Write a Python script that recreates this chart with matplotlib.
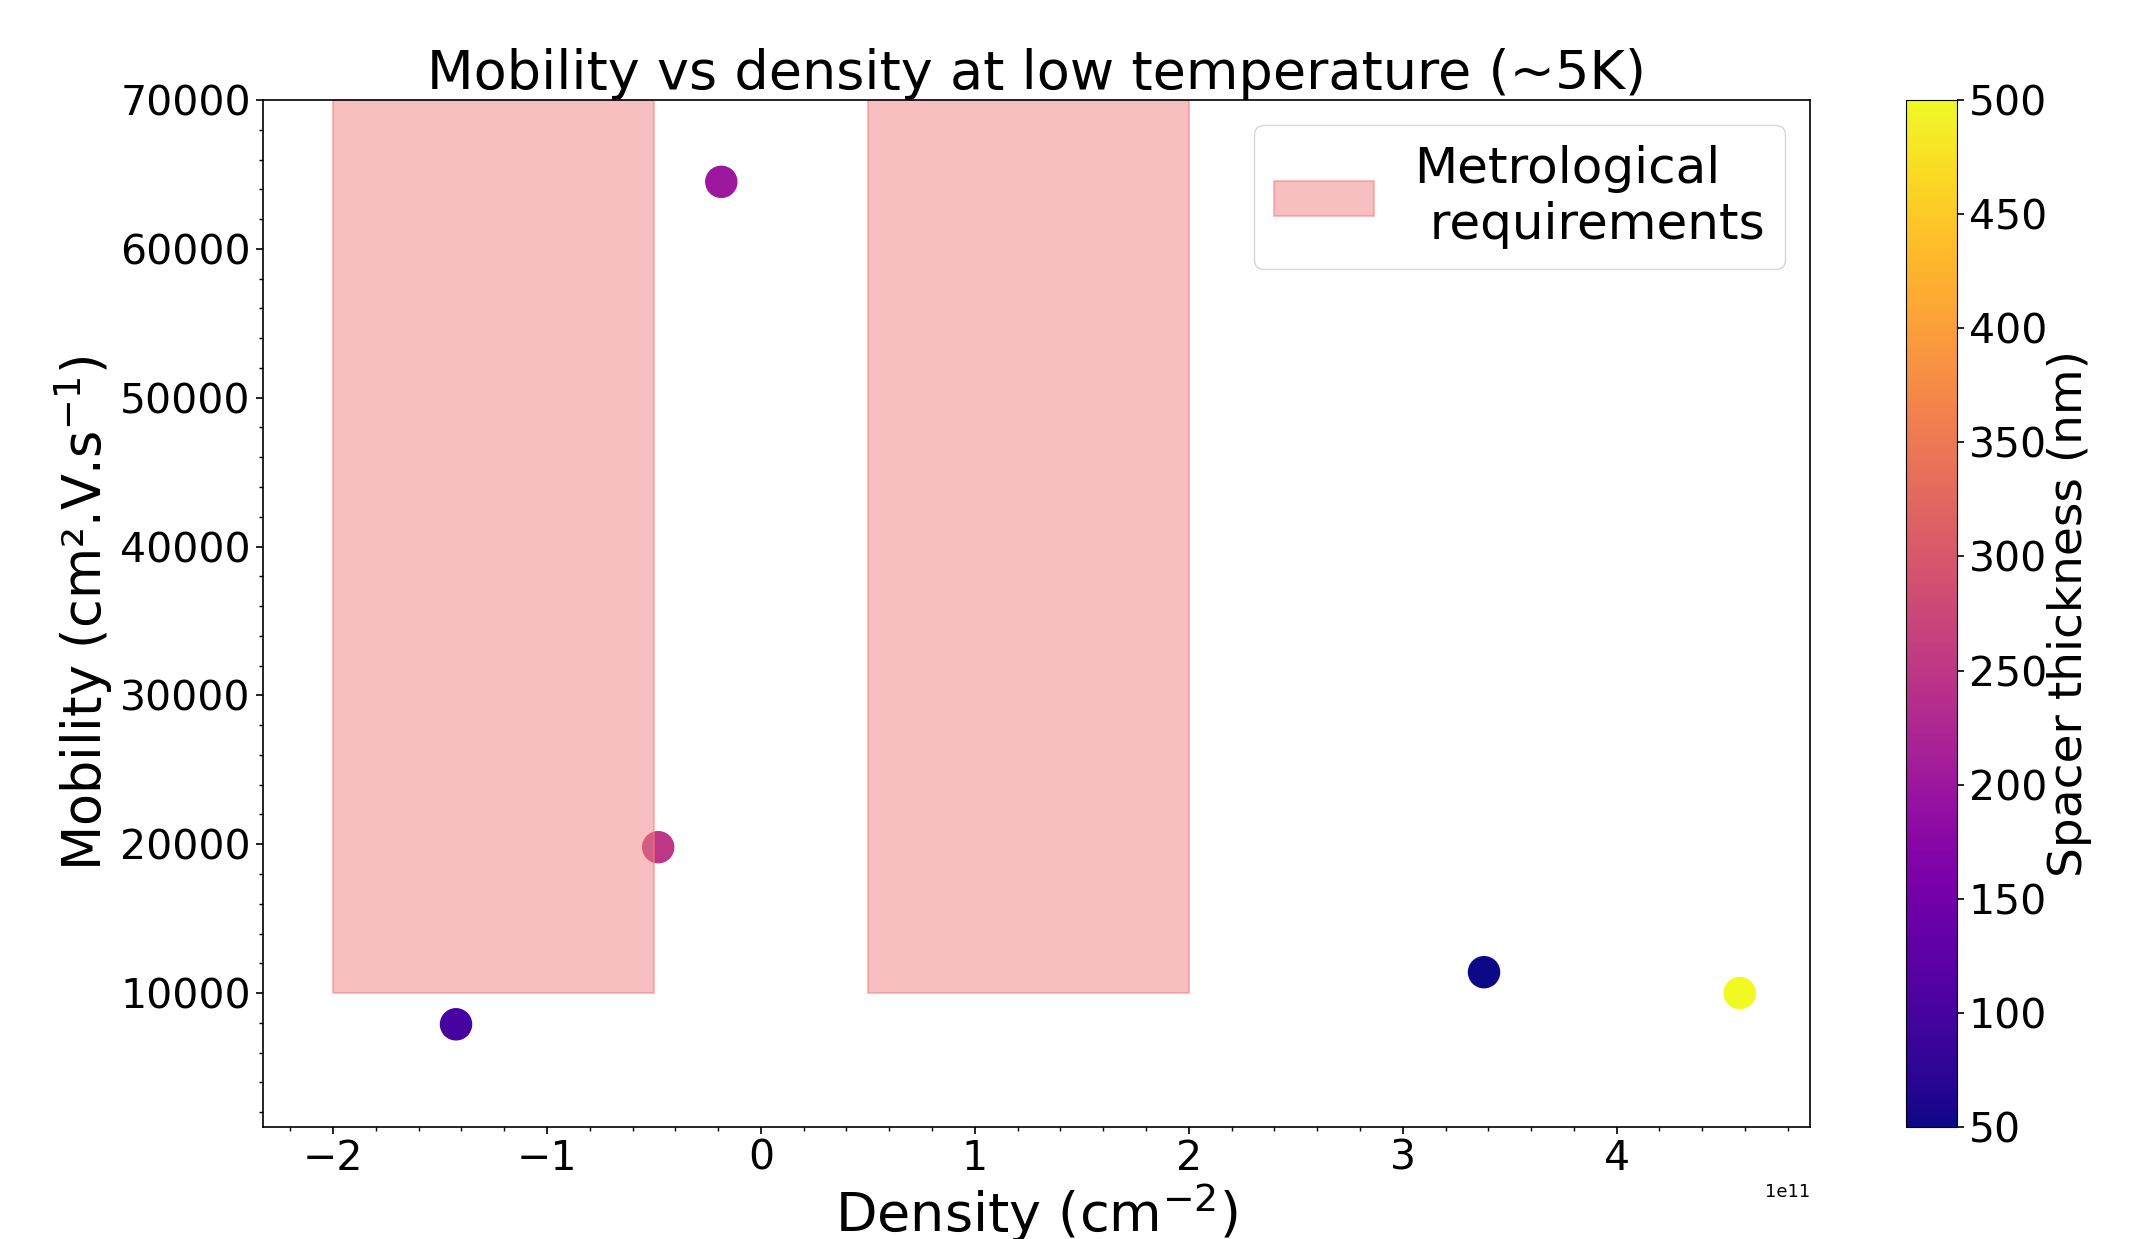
import matplotlib
matplotlib.use("Agg")
import matplotlib.pyplot as plt
import numpy as np
from matplotlib.ticker import MultipleLocator

# Datos (densidad en 1e11 cm^-2)
densidad = np.array([-1.425, -0.48, -0.185, 3.38, 4.575]) * 1e11
movilidad = [7900, 19800, 64500, 11400, 10000]
espesor_spacer = [100, 250, 200, 50, 500]

# Zonas de requisitos metrológicos
zonas_x = [(-2e11, -0.5e11), (0.5e11, 2e11)]
zona_y = (10000, 70000)

fig = plt.figure(figsize=(21.39, 12.39), dpi=100)
ax = fig.add_axes([0.1228, 0.0904, 0.7234, 0.8289])
cax = fig.add_axes([0.8912, 0.0904, 0.0236, 0.8289])

sc = ax.scatter(densidad, movilidad, c=espesor_spacer, cmap="plasma", s=500,
                vmin=50, vmax=500)

for i, (x0, x1) in enumerate(zonas_x):
    ax.fill_between([x0, x1], zona_y[0], zona_y[1], facecolor="lightcoral",
                    edgecolor="lightcoral", linewidth=1.5, alpha=0.5,
                    label="Metrological\n requirements" if i == 0 else None)

ax.set_ylim(1000, 70000)
ax.xaxis.set_minor_locator(MultipleLocator(0.2e11))
ax.yaxis.set_minor_locator(MultipleLocator(2000))
ax.tick_params(which="major", labelsize=29.5, length=5, width=1.2)
ax.tick_params(which="minor", length=3, width=1.0)
for s in ax.spines.values():
    s.set_linewidth(1.2)
ax.xaxis.get_offset_text().set_fontsize(13)

ax.set_title("Mobility vs density at low temperature (~5K)", fontsize=39, pad=6)
ax.set_xlabel("Density (cm$^{-2}$)", fontsize=39, labelpad=2)
ax.set_ylabel("Mobility (cm².V.s$^{-1}$)", fontsize=37.8)
ax.legend(loc="upper right", fontsize=36)

cb = fig.colorbar(sc, cax=cax)
cb.ax.tick_params(labelsize=29.5, length=5, width=1.2)
cb.set_label("Spacer thickness (nm)", fontsize=33.8, labelpad=0)

fig.savefig("out.png", dpi=100)
